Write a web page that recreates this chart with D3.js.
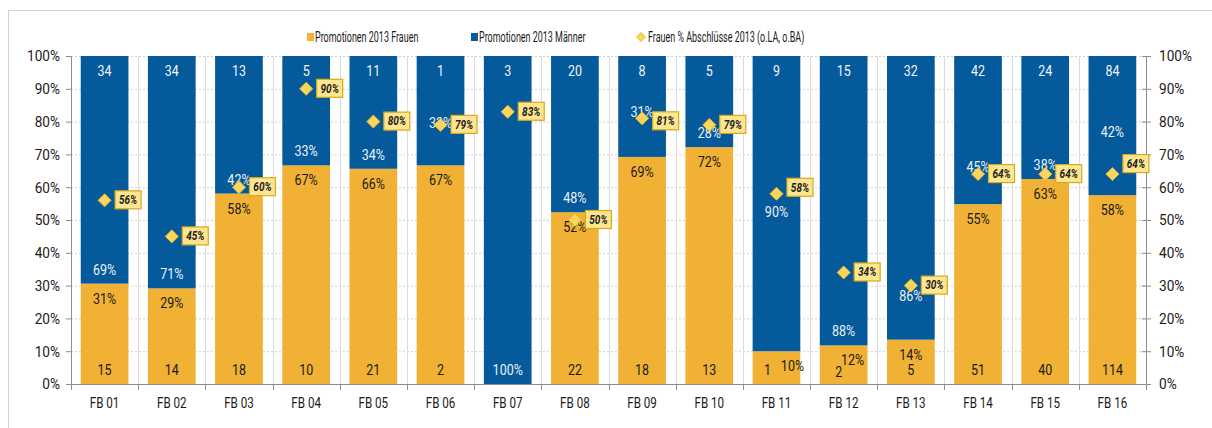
<!DOCTYPE html>
<html>
<head>
<meta charset="utf-8">
<script src="https://cdn.jsdelivr.net/npm/d3@7"></script>
<style>
  body { margin: 0; background: #fff; }
  svg text { font-family: Roboto, "Liberation Sans", sans-serif; }
</style>
</head>
<body>
<svg id="chart" width="1212" height="428"></svg>
<script>
// ====================== data ======================
var categories = ["FB 01", "FB 02", "FB 03", "FB 04", "FB 05", "FB 06", "FB 07", "FB 08",
  "FB 09", "FB 10", "FB 11", "FB 12", "FB 13", "FB 14", "FB 15", "FB 16"];
var frauen = [15, 14, 18, 10, 21, 2, 0, 22, 18, 13, 1, 2, 5, 51, 40, 114];
var maenner = [34, 34, 13, 5, 11, 1, 3, 20, 8, 5, 9, 15, 32, 42, 24, 84];
var abschluesse = [56, 45, 60, 90, 80, 79, 83, 50, 81, 79, 58, 34, 30, 64, 64, 64];
var yTicks = [0, 10, 20, 30, 40, 50, 60, 70, 80, 90, 100];
var legendNames = ["Promotionen 2013 Frauen", "Promotionen 2013 Männer", "Frauen %  Abschlüsse 2013 (o.LA, o.BA)"];

var gelb = "#f0b134",
  blau = "#045a9b";

var svg = d3.select("#chart");

// frame
svg.append("rect")
  .attr("x", 8.5).attr("y", 10.5)
  .attr("width", 1230).attr("height", 440)
  .attr("fill", "none").attr("stroke", "#d2d2d2");

var plotLeft = 71, plotRight = 1146, plotTop = 56, plotBottom = 384;

var x = d3.scaleBand().domain(categories).range([plotLeft, plotRight]).paddingInner(0.29).paddingOuter(0.145);
var y = d3.scaleLinear().domain([0, 100]).range([plotBottom, plotTop]);

var rows = categories.map(function(c, i) {
  var total = frauen[i] + maenner[i];
  return {
    cat: c,
    f: frauen[i],
    m: maenner[i],
    fp: frauen[i] / total * 100,
    a: abschluesse[i]
  };
});

// ====================== grid ======================
var grid = svg.append("g");
grid.selectAll("line.h")
  .data(yTicks.slice(1))
  .enter()
  .append("line")
  .attr("x1", plotLeft).attr("x2", plotRight)
  .attr("y1", function(d) { return y(d) + 0.5; })
  .attr("y2", function(d) { return y(d) + 0.5; })
  .attr("stroke", "#cfcfcf")
  .attr("stroke-dasharray", "2,2");

var bounds = d3.range(1, categories.length).map(function(i) { return plotLeft + i * x.step(); });
grid.selectAll("line.v")
  .data(bounds)
  .enter()
  .append("line")
  .attr("x1", function(d) { return Math.round(d) + 0.5; })
  .attr("x2", function(d) { return Math.round(d) + 0.5; })
  .attr("y1", plotTop).attr("y2", plotBottom)
  .attr("stroke", "#dcdcdc");

// ====================== bars ======================
var bars = svg.append("g");
bars.selectAll("rect.f")
  .data(rows)
  .enter()
  .append("rect")
  .attr("x", function(d) { return x(d.cat); })
  .attr("width", x.bandwidth())
  .attr("y", function(d) { return y(d.fp); })
  .attr("height", function(d) { return plotBottom - y(d.fp); })
  .attr("fill", gelb);

bars.selectAll("rect.m")
  .data(rows)
  .enter()
  .append("rect")
  .attr("x", function(d) { return x(d.cat); })
  .attr("width", x.bandwidth())
  .attr("y", y(100))
  .attr("height", function(d) { return y(d.fp) - y(100); })
  .attr("fill", blau);

// ====================== axes ======================
var axisColor = "#8c8c8c";
var yLeft = svg.append("g")
  .attr("transform", "translate(" + plotLeft + ",0)")
  .call(d3.axisLeft(y).tickValues(yTicks).tickSize(5).tickPadding(6).tickFormat(function(d) { return d + "%"; }));
var yRight = svg.append("g")
  .attr("transform", "translate(" + plotRight + ",0)")
  .call(d3.axisRight(y).tickValues(yTicks).tickSize(5).tickPadding(8).tickFormat(function(d) { return d + "%"; }));
[yLeft, yRight].forEach(function(g) {
  g.attr("font-family", null);
  g.select(".domain").attr("stroke", axisColor);
  g.selectAll(".tick line").attr("stroke", axisColor);
  g.selectAll(".tick text").attr("fill", "#1a1a1a").style("font-size", "15.5px");
});
yRight.selectAll(".tick line").attr("x1", -4);

var xAxis = svg.append("g")
  .attr("transform", "translate(0," + plotBottom + ")");
xAxis.append("line")
  .attr("x1", plotLeft).attr("x2", plotRight)
  .attr("y1", 0.5).attr("y2", 0.5)
  .attr("stroke", axisColor);
xAxis.selectAll("line.t")
  .data([plotLeft].concat(bounds).concat([plotRight]))
  .enter()
  .append("line")
  .attr("x1", function(d) { return Math.round(d) + 0.5; })
  .attr("x2", function(d) { return Math.round(d) + 0.5; })
  .attr("y1", 0).attr("y2", 6)
  .attr("stroke", axisColor);
xAxis.selectAll("text")
  .data(categories)
  .enter()
  .append("text")
  .attr("x", function(d) { return x(d) + x.bandwidth() / 2; })
  .attr("y", 19)
  .attr("dy", "0.35em")
  .attr("text-anchor", "middle")
  .attr("fill", "#1a1a1a")
  .style("font-size", "14.5px")
  .text(function(d) { return d; });

// ====================== bar labels ======================
// manual nudges copied from the original where labels would collide
var nudge = {
  "FB 11": { cnt: -9, pct: 16, mY: 212, boxDy: -6 },
  "FB 12": { cnt: -5, pct: 9, cntDy: 2 },
  "FB 06": { mY: 123 },
  "FB 09": { mY: 112, boxDy: 3 },
  "FB 13": { mY: 296 },
  "FB 14": { mY: 167 },
  "FB 16": { mY: 132, boxDy: -10 }
};
function nx(d, key) { return (nudge[d.cat] && nudge[d.cat][key]) || 0; }
function cx(d) { return x(d.cat) + x.bandwidth() / 2; }

var labels = svg.append("g").style("font-size", "14.5px").attr("text-anchor", "middle");

// women counts (inside base)
labels.selectAll("text.fc")
  .data(rows.filter(function(d) { return d.f > 0; }))
  .enter()
  .append("text")
  .attr("x", function(d) { return cx(d) + nx(d, "cnt"); })
  .attr("y", function(d) { return 370 + nx(d, "cntDy"); })
  .attr("dy", "0.35em")
  .attr("fill", "#1a1a1a")
  .text(function(d) { return d.f; });

// women percent (inside end)
labels.selectAll("text.fp")
  .data(rows.filter(function(d) { return d.f > 0; }))
  .enter()
  .append("text")
  .attr("x", function(d) { return cx(d) + nx(d, "pct"); })
  .attr("y", function(d) { return y(d.fp) + 15; })
  .attr("dy", "0.35em")
  .attr("fill", "#1a1a1a")
  .text(function(d) { return Math.round(d.fp) + "%"; });

// men counts (top)
labels.selectAll("text.mc")
  .data(rows)
  .enter()
  .append("text")
  .attr("x", cx)
  .attr("y", 71)
  .attr("dy", "0.35em")
  .attr("fill", "#f2f5f9")
  .text(function(d) { return d.m; });

// men percent (inside base of blue segment)
labels.selectAll("text.mp")
  .data(rows)
  .enter()
  .append("text")
  .attr("x", cx)
  .attr("y", function(d) { return nx(d, "mY") || (y(d.fp) - 14); })
  .attr("dy", "0.35em")
  .attr("fill", "#eef2f7")
  .text(function(d) { return Math.round(100 - d.fp) + "%"; });

// ====================== diamonds ======================
var dia = svg.append("g");
var pts = dia.selectAll("g")
  .data(rows)
  .enter()
  .append("g")
  .attr("transform", function(d) { return "translate(" + cx(d) + "," + y(d.a) + ")"; });
pts.append("path")
  .attr("d", "M0,-6.5L6.5,0L0,6.5L-6.5,0Z")
  .attr("fill", "#fbd65e")
  .attr("stroke", "#e6b92a")
  .attr("stroke-width", 1);
pts.append("rect")
  .attr("x", 10.5)
  .attr("y", function(d) { return -9.5 + nx(d, "boxDy"); })
  .attr("width", 26).attr("height", 18)
  .attr("fill", "#fde68f")
  .attr("stroke", "#d7a91c")
  .attr("stroke-width", 1.2);
var boxText = pts.append("text")
  .attr("x", 23.5)
  .attr("y", function(d) { return -0.5 + nx(d, "boxDy"); })
  .attr("dy", "0.35em")
  .attr("text-anchor", "middle")
  .attr("fill", "#222")
  .style("font-size", "12.5px")
  .style("font-style", "italic")
  .style("font-weight", "bold")
  .text(function(d) { return d.a + "%"; });

// ====================== legend ======================
var legend = svg.append("g").style("font-size", "14px");
var legX = [307, 471, 640];
legend.append("rect").attr("x", legX[0]).attr("y", 33).attr("width", 7).attr("height", 8).attr("fill", gelb);
legend.append("rect").attr("x", legX[1]).attr("y", 33).attr("width", 7).attr("height", 8).attr("fill", blau);
legend.append("path")
  .attr("transform", "translate(" + (legX[2] + 1) + ",37)")
  .attr("d", "M0,-4.5L4.5,0L0,4.5L-4.5,0Z")
  .attr("fill", "#fbd65e").attr("stroke", "#e6b92a");
var legText = legend.selectAll("text")
  .data(legendNames)
  .enter()
  .append("text")
  .attr("x", function(d, i) { return legX[i] + 8; })
  .attr("y", 37)
  .attr("dy", "0.35em")
  .attr("fill", "#1a1a1a")
  .text(function(d) { return d; });

// the original uses a condensed face: squeeze texts horizontally
function squeeze(sel, f) {
  sel.each(function() {
    var w = this.getComputedTextLength();
    this.setAttribute("textLength", (w * f).toFixed(1));
    this.setAttribute("lengthAdjust", "spacingAndGlyphs");
  });
}
squeeze(yLeft.selectAll(".tick text"), 0.88);
squeeze(yRight.selectAll(".tick text"), 0.88);
squeeze(xAxis.selectAll("text"), 0.8);
squeeze(labels.selectAll("text"), 0.86);
squeeze(boxText, 0.8);
squeeze(legText, 0.64);
</script>
</body>
</html>
